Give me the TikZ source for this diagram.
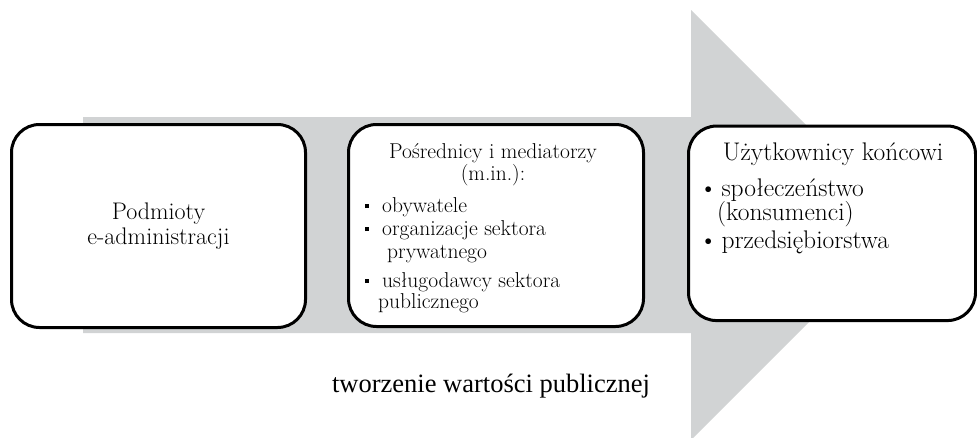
\documentclass[tikz,border=0pt]{standalone}
\usepackage{fontspec}
\usepackage{xcolor}
\newfontfamily\timesfont{Liberation Serif}
\definecolor{flowgray}{RGB}{209,211,212}
\usetikzlibrary{positioning}

\begin{document}
\begin{tikzpicture}[x=1pt, y=-1pt,
  box/.style={draw=black, line width=3pt, rounded corners=28pt, fill=white, inner sep=0pt},
  midtext/.style={font=\fontsize{21.5}{23}\selectfont, inner sep=0pt},
  endtext/.style={font=\fontsize{25.5}{26}\selectfont, inner sep=0pt}]
\useasboundingbox (0,0) rectangle (977,437);
% big grey arrow behind the boxes
\fill[flowgray] (83,117) -- (691,117) -- (691,10) -- (906,225) -- (691,440) -- (691,333) -- (83,333) -- cycle;
\node[box, minimum width=294pt, minimum height=203pt, align=center, font=\fontsize{24}{25}\selectfont] (src) at (158.5,226) {Podmioty\\e-administracji};
\node[box, minimum width=295pt, minimum height=202pt] (mid) at (496,225.5) {};
\node[box, minimum width=287pt, minimum height=194.5pt] (dst) at (832,223.3) {};
\node[midtext, anchor=base] (mid1) at (493,158) {Pośrednicy i mediatorzy};
\node[midtext, anchor=base] (mid2) at (493,180) {(m.in.):};
\node[midtext, anchor=base west] (mid3) at (365,212) {\rule[4pt]{4pt}{4pt}\hspace{13pt}obywatele};
\node[midtext, anchor=base west] (mid4) at (365,235) {\rule[4pt]{4pt}{4pt}\hspace{13pt}organizacje sektora};
\node[midtext, anchor=base west] (mid5) at (387,258) {prywatnego};
\node[midtext, anchor=base west] (mid6) at (365,287) {\rule[4pt]{4pt}{4pt}\hspace{13pt}usługodawcy sektora};
\node[midtext, anchor=base west] (mid7) at (378,308) {publicznego};
\node[endtext, anchor=base] (dst1) at (833,160) {Użytkownicy końcowi};
\node[endtext, anchor=base west] (dst2) at (699,196) {\textbullet\hspace{4pt}społeczeństwo};
\node[endtext, anchor=base west] (dst3) at (717,220) {(konsumenci)};
\node[endtext, anchor=base west] (dst4) at (699,248) {\textbullet\hspace{4pt}przedsiębiorstwa};
\node[font=\timesfont\fontsize{26.5}{30}\selectfont, anchor=base, inner sep=0pt] (value) at (491,392) {tworzenie wartości publicznej};
\end{tikzpicture}
\end{document}
